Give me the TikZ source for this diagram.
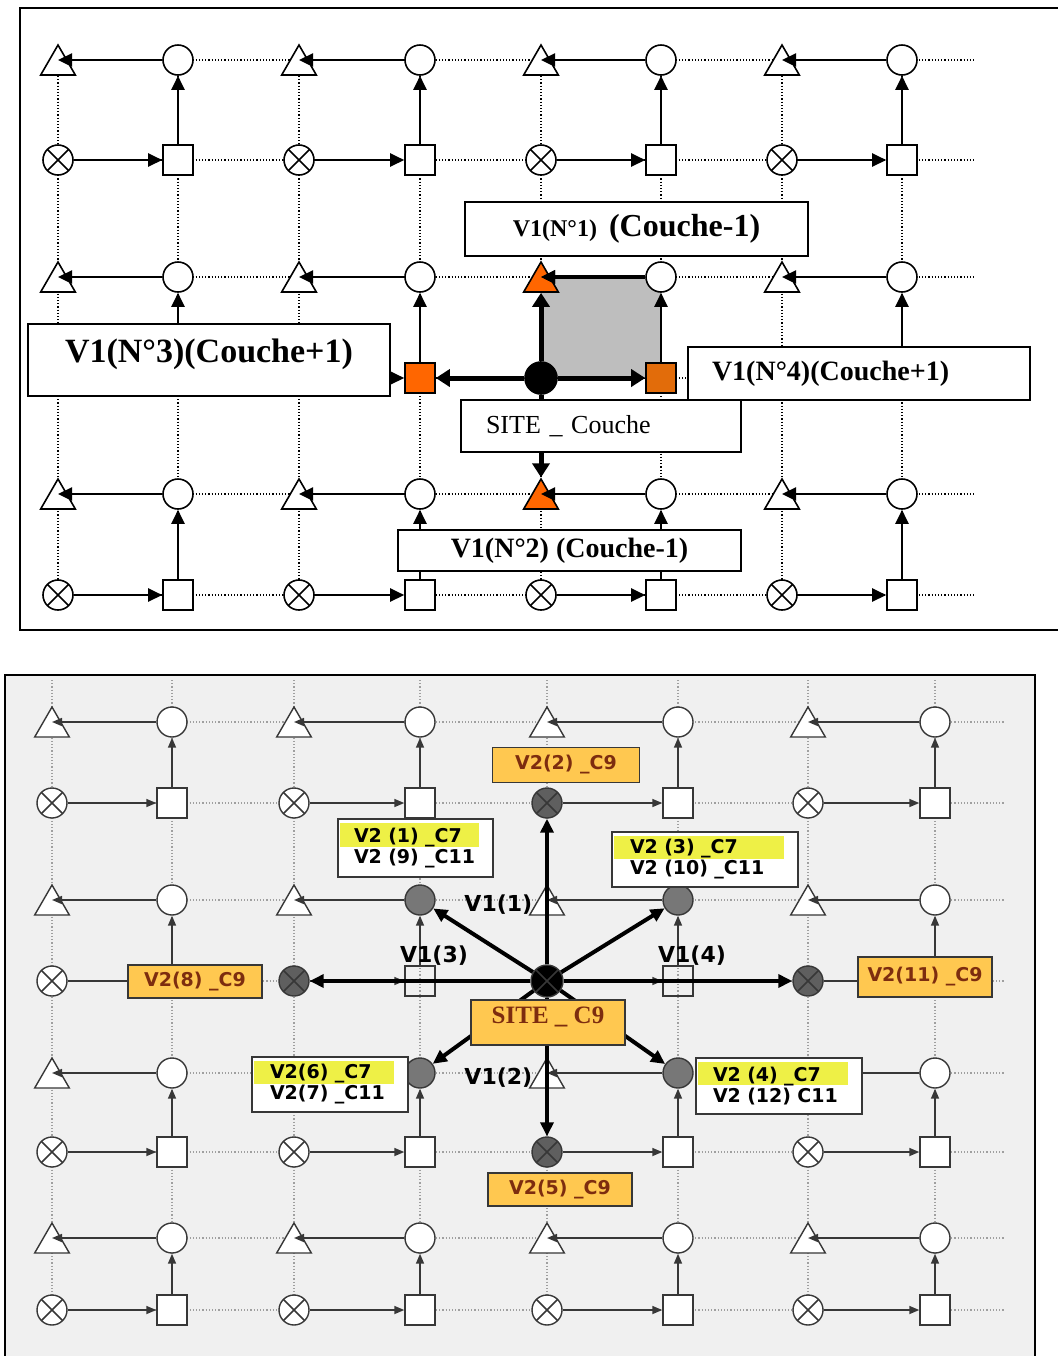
\documentclass[tikz,border=0pt]{standalone}
\usepackage{fontspec}
\setmainfont{Liberation Serif}
\newfontfamily\labfont{DejaVu Sans}
\usetikzlibrary{arrows.meta,shapes.geometric,positioning}

\definecolor{siteorange}{RGB}{255,102,0}
\definecolor{siteorangedk}{RGB}{226,108,10}
\definecolor{cellgray}{RGB}{190,190,190}
\definecolor{paper}{RGB}{240,240,240}
\definecolor{hlorange}{RGB}{255,200,80}
\definecolor{hlyellow}{RGB}{238,240,70}
\definecolor{ctext}{RGB}{125,45,15}
\definecolor{nodegray}{RGB}{95,95,95}
\definecolor{inkgray}{RGB}{55,55,55}

\tikzset{
  % --- first sheet ---
  gridline/.style={densely dotted, line width=0.6pt},
  tri/.style={draw, fill=white, line width=0.8pt, regular polygon, regular polygon sides=3,
    minimum size=20pt, inner sep=0pt, yshift=-2.5pt},
  circ/.style={draw, fill=white, line width=0.8pt, circle, minimum size=15pt, inner sep=0pt},
  sq/.style={draw, fill=white, line width=0.8pt, rectangle, minimum size=15pt, inner sep=0pt},
  otim/.style={circ, path picture={
    \draw[line width=0.8pt] (path picture bounding box.north west) -- (path picture bounding box.south east)
      (path picture bounding box.north east) -- (path picture bounding box.south west);}},
  site/.style={circle, fill=black, minimum size=16pt, inner sep=0pt},
  arr/.style={-{Triangle[length=7pt,width=6.5pt]}, line width=1.2pt},
  bigarr/.style={-{Triangle[length=7pt,width=8.5pt]}, line width=2.5pt},
  lbox/.style={draw, fill=white, line width=0.8pt, inner sep=0pt},
  % special nodes, first sheet
  aT32/.style={fill=siteorange}, aT33/.style={fill=siteorange},
  aS22/.style={fill=siteorange}, aS32/.style={fill=siteorangedk},
  aX32/.style={site},
  % --- second sheet ---
  pgrid/.style={densely dotted, line width=0.6pt, gray!75},
  btri/.style={tri, draw=inkgray, line width=0.7pt},
  bcirc/.style={circ, draw=inkgray, line width=0.7pt},
  bsq/.style={sq, draw=inkgray, line width=0.7pt},
  botim/.style={otim, draw=inkgray, line width=0.7pt},
  barr/.style={-{Triangle[length=5pt,width=4pt]}, line width=0.8pt, inkgray},
  bbig/.style={-{Triangle[length=7pt,width=6.5pt]}, line width=2pt, black},
  c9box/.style={draw=inkgray, fill=hlorange, line width=0.8pt, inner sep=0pt, text=ctext,
    font=\labfont\bfseries\fontsize{9.5}{11}\selectfont},
  c7box/.style={draw=inkgray, fill=white, line width=0.8pt, inner ysep=0pt, align=left,
    font=\labfont\bfseries\fontsize{9.5}{10.5}\selectfont,
    path picture={\fill[hlyellow] ([shift={(1pt,-2pt)}]path picture bounding box.north west)
      rectangle ([shift={(-7pt,0.5pt)}]path picture bounding box.east);}},
  vlab/.style={font=\labfont\bfseries\fontsize{11}{13}\selectfont, inner sep=1pt},
  % special nodes, second sheet
  bX32/.style={site}, bX31/.style={fill=nodegray}, bX22/.style={fill=nodegray},
  bX42/.style={fill=nodegray}, bX33/.style={fill=nodegray},
  bC22/.style={fill=nodegray!85}, bC32/.style={fill=nodegray!85},
  bC23/.style={fill=nodegray!85}, bC33/.style={fill=nodegray!85},
  bS22/.style={fill=none}, bS32/.style={fill=none},
}

\begin{document}
\begin{tikzpicture}[x=0.5pt, y=-0.5pt]
\useasboundingbox (0,0) rectangle (1057,1356);

% --- TOP: SITE_Couche ---
\draw[line width=0.9pt] (1060,8) -- (20,8) -- (20,630) -- (1060,630);

% dotted grid
\foreach \y in {60,160,277,378,494,595}
  \draw[gridline] (58,\y) -- (975,\y);
\foreach \x in {58,178,299,420,541,661,782,902}
  \draw[gridline] (\x,60) -- (\x,595);

% grey cell
\fill[cellgray] (541,277) rectangle (661,378);

% cells
\foreach \i/\xl/\xr in {1/58/178, 2/299/420, 3/541/661, 4/782/902}
  \foreach \j/\yt/\yb in {1/60/160, 2/277/378, 3/494/595} {
    \node[tri,  aT\i\j/.try] (aT\i\j) at (\xl,\yt) {};
    \node[circ, aC\i\j/.try] (aC\i\j) at (\xr,\yt) {};
    \node[otim, aX\i\j/.try] (aX\i\j) at (\xl,\yb) {};
    \node[sq,   aS\i\j/.try] (aS\i\j) at (\xr,\yb) {};
    \draw[arr] (aX\i\j) -- (aS\i\j);
    \draw[arr] (aS\i\j) -- (aC\i\j);
    \draw[arr] (aC\i\j) -- (aC\i\j -| aT\i\j);
  }

% V1 of the site
\draw[bigarr] (aX32) -- (aT32);
\draw[bigarr] (aX32) -- (aT33);
\draw[bigarr] (aX32) -- (aS22);
\draw[bigarr] (aX32) -- (aS32);
\draw[arr, line width=2pt] (aC32) -- (aC32 -| aT32);

% labels
\node[lbox, minimum width=171.5pt, minimum height=27pt] (nOne) at (636.5,229)
  {\bfseries\fontsize{12}{14}\selectfont V1(N°1)\hspace{6pt}\fontsize{16}{19}\selectfont(Couche-1)};
\node[lbox, minimum width=181pt, minimum height=36pt, text height=12pt, text depth=10pt,
  font=\bfseries\fontsize{17}{20}\selectfont] (nThree) at (209,360) {V1(N°3)(Couche+1)};
\node[lbox, minimum width=171pt, minimum height=26.5pt, text width=147pt, inner xsep=12pt,
  align=left, font=\bfseries\fontsize{14}{16}\selectfont] (nFour) at (859,373.5) {V1(N°4)(Couche+1)};
\node[lbox, minimum width=140pt, minimum height=26pt, text width=115pt, inner xsep=12.5pt,
  align=left, font=\fontsize{13}{15}\selectfont] (nSite) at (601,426) {SITE \_ Couche};
\node[lbox, minimum width=171.5pt, minimum height=20.5pt,
  font=\bfseries\fontsize{14}{16}\selectfont] (nTwo) at (569.5,550.5) {V1(N°2) (Couche-1)};

% --- BOTTOM: SITE_C9 ---
\fill[paper] (5,675) rectangle (1035,1360);
\draw[line width=0.9pt] (5,1360) -- (5,675) -- (1035,675) -- (1035,1360);

% dotted grid
\foreach \y in {722,803,900,981,1073,1152,1238,1310}
  \draw[pgrid] (52,\y) -- (1005,\y);
\foreach \x in {52,172,294,420,547,678,808,935}
  \draw[pgrid] (\x,680) -- (\x,1310);

% cells
\foreach \i/\xl/\xr in {1/52/172, 2/294/420, 3/547/678, 4/808/935}
  \foreach \j/\yt/\yb in {1/722/803, 2/900/981, 3/1073/1152, 4/1238/1310} {
    \node[btri,  bT\i\j/.try] (bT\i\j) at (\xl,\yt) {};
    \node[bcirc, bC\i\j/.try] (bC\i\j) at (\xr,\yt) {};
    \node[botim, bX\i\j/.try] (bX\i\j) at (\xl,\yb) {};
    \node[bsq,   bS\i\j/.try] (bS\i\j) at (\xr,\yb) {};
    \draw[barr] (bX\i\j) -- (bS\i\j);
    \draw[barr] (bS\i\j) -- (bC\i\j);
    \draw[barr] (bC\i\j) -- (bC\i\j -| bT\i\j);
  }

% V1 and V2 of the site
\foreach \t in {bX31, bC32, bX42, bC33, bX33, bC23, bX22, bC22}
  \draw[bbig] (bX32) -- (\t);

\node[vlab, left=0pt of bT32] (vOne) {V1(1)};
\node[vlab, left=0pt of bT33] (vTwo) {V1(2)};
\node[vlab, above=-1pt of bS22, xshift=7pt] (vThree) {V1(3)};
\node[vlab, above=-1pt of bS32, xshift=7pt] (vFour) {V1(4)};

% labels
\node[c9box, minimum width=73.5pt, minimum height=17.5pt] (wTwo) at (566,765) {V2(2) \_C9};
\node[c9box, minimum width=67pt, minimum height=16.5pt] (wEight) at (195,981.5) {V2(8) \_C9};
\node[c9box, minimum width=67pt, minimum height=20pt] (wEleven) at (925,977) {V2(11) \_C9};
\node[c9box, minimum width=72pt, minimum height=16.5pt] (wFive) at (560,1189.5) {V2(5) \_C9};
\node[c9box, minimum width=77pt, minimum height=22.5pt, text height=9pt, text depth=8pt,
  font=\bfseries\fontsize{12.5}{14}\selectfont] (wSite) at (548,1022.5) {SITE \_ C9};
\node[c7box, minimum width=77.5pt, minimum height=29pt, text width=61.5pt, inner xsep=8pt]
  (wOne) at (415.5,848) {V2 (1) \_C7\\V2 (9) \_C11};
\node[c7box, minimum width=93pt, minimum height=27.5pt, text width=75pt, inner xsep=9pt]
  (wThree) at (705,859.5) {V2 (3) \_C7\\V2 (10) \_C11};
\node[c7box, minimum width=78pt, minimum height=27.5pt, text width=60pt, inner xsep=9pt]
  (wSix) at (330,1084.5) {V2(6) \_C7\\V2(7) \_C11};
\node[c7box, minimum width=83pt, minimum height=28pt, text width=66pt, inner xsep=8.5pt]
  (wFour) at (779,1086) {V2 (4) \_C7\\V2 (12) C11};

\end{tikzpicture}
\end{document}
